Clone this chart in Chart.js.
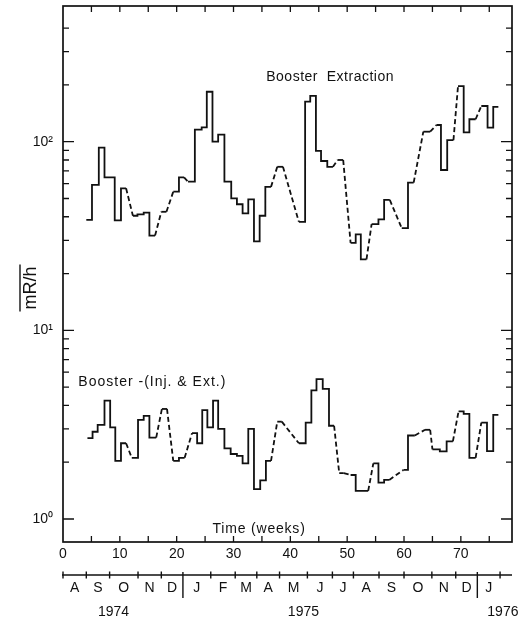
<!DOCTYPE html>
<html>
<head>
<meta charset="utf-8">
<script src="https://cdn.jsdelivr.net/npm/chart.js@4/dist/chart.umd.min.js"></script>
<style>
  html, body { margin: 0; padding: 0; background: #fff; }
  #wrap { width: 527px; height: 620px; }
</style>
</head>
<body>
<div id="wrap"><canvas id="c" width="527" height="620"></canvas></div>
<script>
// Booster Extraction: weekly runs, [start week, end week] and average dose rate (mR/h)
const extStart = [4.1, 5.1, 6.3, 7.3, 9.1, 10.2, 12.3, 13.1, 14.2, 15.2, 17.3, 19.4, 20.4, 22.0, 23.2, 24.4, 25.3, 26.3, 27.3, 28.4, 29.6, 30.6, 31.6, 32.6, 33.6, 34.6, 35.6, 37.7, 41.5, 42.6, 43.5, 44.5, 45.4, 46.5, 48.3, 50.6, 51.5, 52.4, 54.3, 55.5, 56.5, 59.6, 60.7, 63.4, 65.7, 66.5, 67.6, 69.5, 70.5, 71.5, 73.6, 74.7, 75.7];
const extEnd   = [5.1, 6.3, 7.3, 9.1, 10.2, 11.1, 13.1, 14.2, 15.2, 16.2, 18.2, 20.4, 21.3, 23.2, 24.4, 25.3, 26.3, 27.3, 28.4, 29.6, 30.6, 31.6, 32.6, 33.6, 34.6, 35.6, 36.6, 38.7, 42.6, 43.5, 44.5, 45.4, 46.5, 47.5, 49.3, 51.5, 52.4, 53.4, 55.5, 56.5, 57.5, 60.7, 61.7, 64.6, 66.5, 67.6, 68.7, 70.5, 71.5, 72.6, 74.7, 75.7, 76.6];
const extValue = [38.5, 59, 93, 64.7, 38.3, 56.6, 40.5, 41.2, 42.1, 31.8, 42.5, 54.3, 64.7, 61.4, 116, 119, 184, 100, 109, 61.4, 50.1, 46.6, 41.7, 49.5, 29.6, 40.5, 57.6, 73.6, 37.6, 163, 175, 89.3, 79, 73.6, 80, 29.1, 32.3, 23.8, 36.6, 38.7, 49.1, 34.8, 60.7, 113, 122.6, 70.8, 102, 197, 112, 131.5, 154.6, 118.6, 153];

// Booster - (Injection & Extraction)
const injStart = [4.3, 5.2, 6.1, 7.3, 8.3, 9.2, 10.2, 12.1, 13.2, 14.2, 15.2, 17.4, 19.4, 20.4, 22.7, 23.6, 24.5, 25.4, 26.4, 27.3, 28.4, 29.5, 30.6, 31.6, 32.6, 33.6, 34.7, 35.7, 37.7, 41.5, 42.7, 43.7, 44.6, 45.7, 46.8, 48.6, 50.6, 51.5, 54.6, 55.5, 56.5, 59.9, 60.7, 63.7, 65.0, 66.3, 67.5, 69.6, 70.5, 71.5, 73.6, 74.6, 75.7];
const injEnd   = [5.2, 6.1, 7.3, 8.3, 9.2, 10.2, 11.1, 13.2, 14.2, 15.2, 16.4, 18.3, 20.4, 21.4, 23.6, 24.5, 25.4, 26.4, 27.3, 28.4, 29.5, 30.6, 31.6, 32.6, 33.6, 34.7, 35.7, 36.6, 38.5, 42.7, 43.7, 44.6, 45.7, 46.8, 47.7, 49.4, 51.5, 53.7, 55.5, 56.5, 57.4, 60.7, 61.9, 64.6, 66.3, 67.5, 68.6, 70.5, 71.5, 72.6, 74.6, 75.7, 76.6];
const injValue = [2.68, 2.90, 3.15, 4.24, 3.06, 2.03, 2.52, 2.11, 3.35, 3.52, 2.70, 3.83, 2.03, 2.11, 2.85, 2.52, 3.78, 3.06, 4.24, 3.0, 2.37, 2.21, 2.16, 1.97, 3.0, 1.44, 1.60, 2.03, 3.28, 2.52, 3.24, 4.80, 5.51, 4.89, 3.12, 1.75, 1.71, 1.41, 1.97, 1.56, 1.61, 1.82, 2.77, 2.97, 2.34, 2.28, 2.58, 3.72, 3.61, 2.11, 3.24, 2.29, 3.56];

// Axis ticks and calendar
const xTickValues = [0, 10, 20, 30, 40, 50, 60, 70];
const yDecades = [1, 10, 100];
const yDecadeLabels = ['10\u2070', '10\u00b9', '10\u00b2'];
const monthBounds = [0, 4.1, 8.2, 13.2, 17.3, 21.1, 26.0, 30.3, 34.1, 38.1, 43.0, 47.4, 51.1, 55.6, 60.0, 64.9, 69.1, 72.9, 76.9];
const monthLabels = ['A', 'S', 'O', 'N', 'D', 'J', 'F', 'M', 'A', 'M', 'J', 'J', 'A', 'S', 'O', 'N', 'D', 'J'];
const yearBreaks = [21.1, 72.9];
const yearLabels = ['1974', '1975', '1976'];

const FONT = '"Liberation Sans", Arial, sans-serif';
const INK = '#111';

// Each run becomes a flat step; gaps between runs are bridged with dashes.
function runsToPoints(starts, ends, values) {
  const pts = [];
  for (let i = 0; i < values.length; i++) {
    pts.push({ x: starts[i], y: values[i] });
    pts.push({ x: ends[i], y: values[i] });
  }
  return pts;
}
const gapDash = ctx => (ctx.p0DataIndex % 2 === 1 && ctx.p0.parsed.x !== ctx.p1.parsed.x) ? [5, 3] : undefined;

function stepSeries(label, starts, ends, values) {
  return {
    label,
    data: runsToPoints(starts, ends, values),
    borderColor: INK,
    borderWidth: 1.8,
    pointRadius: 0,
    tension: 0,
    fill: false,
    segment: { borderDash: gapDash }
  };
}

const yTickValues = [];
yDecades.forEach(d => { for (let m = 1; m <= 9; m++) { if (d * m <= 400) yTickValues.push(d * m); } });
const isDecade = v => yDecades.some(d => Math.abs(d - v) < 1e-9);

function spacedText(ctx, text, px, py, spacing) {
  ctx.letterSpacing = spacing + 'px';
  ctx.fillText(text, px, py);
  ctx.letterSpacing = '0px';
}

// Frame, inward ticks, curve captions, y title and the calendar strip under the week axis
const decorations = {
  id: 'decorations',
  afterDraw(chart) {
    const { ctx, chartArea: a, scales: { x, y } } = chart;
    ctx.save();
    ctx.strokeStyle = INK;
    ctx.fillStyle = INK;
    ctx.lineWidth = 1.7;
    ctx.strokeRect(a.left, a.top, a.right - a.left, a.bottom - a.top);

    ctx.lineWidth = 1.3;
    ctx.beginPath();
    for (let w = 5; w < x.max; w += 5) {
      const px = x.getPixelForValue(w);
      ctx.moveTo(px, a.top); ctx.lineTo(px, a.top + 6);
      ctx.moveTo(px, a.bottom); ctx.lineTo(px, a.bottom - 6);
    }
    y.ticks.forEach(t => {
      const py = y.getPixelForValue(t.value);
      const len = isDecade(t.value) ? 11 : 6;
      ctx.moveTo(a.left, py); ctx.lineTo(a.left + len, py);
      ctx.moveTo(a.right, py); ctx.lineTo(a.right - len, py);
    });
    ctx.stroke();

    // captions
    ctx.font = '14px ' + FONT;
    ctx.textBaseline = 'middle';
    ctx.textAlign = 'center';
    spacedText(ctx, 'Booster  Extraction', x.getPixelForValue(47.0), y.getPixelForValue(221), 0.5);
    ctx.textAlign = 'left';
    spacedText(ctx, 'Booster -(Inj. & Ext.)', x.getPixelForValue(2.7), y.getPixelForValue(5.3), 1);
    ctx.textAlign = 'center';
    spacedText(ctx, 'Time (weeks)', x.getPixelForValue(34.5), y.getPixelForValue(0.88), 0.8);

    // y title with overbar
    ctx.save();
    ctx.translate(31, 288);
    ctx.rotate(-Math.PI / 2);
    ctx.font = '18px ' + FONT;
    ctx.textAlign = 'center';
    ctx.textBaseline = 'middle';
    ctx.fillText('mR/h', 0, 0);
    const tw = ctx.measureText('mR/h').width;
    ctx.lineWidth = 1.4;
    ctx.beginPath();
    ctx.moveTo(-tw / 2 - 2, -11); ctx.lineTo(tw / 2 + 2, -11);
    ctx.stroke();
    ctx.restore();

    // calendar strip
    const lineY = a.bottom + 33;
    ctx.lineWidth = 1.4;
    ctx.beginPath();
    ctx.moveTo(a.left - 1, lineY); ctx.lineTo(a.right, lineY);
    monthBounds.forEach(w => {
      const px = x.getPixelForValue(w);
      if (yearBreaks.includes(w)) { ctx.moveTo(px, lineY - 3); ctx.lineTo(px, lineY + 23); }
      else { ctx.moveTo(px, lineY - 3.5); ctx.lineTo(px, lineY + 3.5); }
    });
    ctx.stroke();
    ctx.font = '14px ' + FONT;
    ctx.textAlign = 'center';
    ctx.textBaseline = 'middle';
    monthLabels.forEach((m, i) => {
      const px = (x.getPixelForValue(monthBounds[i]) + x.getPixelForValue(monthBounds[i + 1])) / 2;
      ctx.fillText(m, px, lineY + 13);
    });
    const yearAt = [8.9, 42.3, 77.4];
    yearLabels.forEach((t, i) => ctx.fillText(t, x.getPixelForValue(yearAt[i]), lineY + 37));
    ctx.restore();
  }
};

new Chart(document.getElementById('c'), {
  type: 'line',
  data: {
    datasets: [
      stepSeries('Booster Extraction', extStart, extEnd, extValue),
      stepSeries('Booster-(Inj. & Ext.)', injStart, injEnd, injValue)
    ]
  },
  options: {
    responsive: false,
    devicePixelRatio: 1,
    animation: false,
    events: [],
    layout: { padding: { left: 0, right: 15, top: 6, bottom: 0 } },
    plugins: { legend: { display: false }, tooltip: { enabled: false } },
    scales: {
      x: {
        type: 'linear',
        min: 0,
        max: 79,
        grid: { display: false, drawTicks: false },
        border: { display: false },
        afterBuildTicks: s => { s.ticks = xTickValues.map(v => ({ value: v })); },
        afterFit: s => { s.height = 78; s.paddingLeft = 0; s.paddingRight = 0; },
        ticks: {
          autoSkip: false,
          maxRotation: 0,
          padding: 4,
          color: INK,
          font: { family: FONT, size: 14 },
          callback: v => String(v)
        }
      },
      y: {
        type: 'logarithmic',
        min: 0.755,
        max: 524,
        grid: { display: false, drawTicks: false },
        border: { display: false },
        afterBuildTicks: s => { s.ticks = yTickValues.map(v => ({ value: v })); },
        afterFit: s => { s.width = 63; s.paddingTop = 0; s.paddingBottom = 0; },
        ticks: {
          autoSkip: false,
          padding: 10,
          color: INK,
          font: { family: FONT, size: 14 },
          callback: v => { const i = yDecades.findIndex(d => Math.abs(d - v) < 1e-9); return i >= 0 ? yDecadeLabels[i] : ''; }
        }
      }
    }
  },
  plugins: [decorations]
});
</script>
</body>
</html>
